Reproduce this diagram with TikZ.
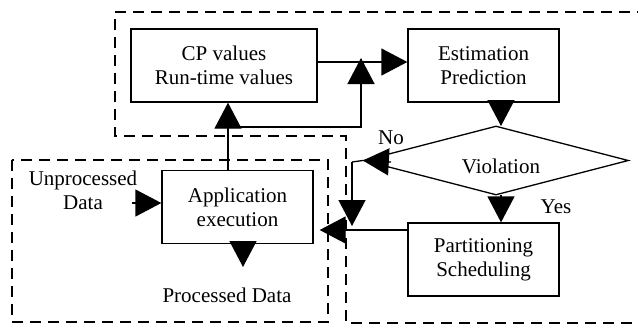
\documentclass[tikz,border=0pt]{standalone}
\usepackage{fontspec}
\setmainfont{Liberation Serif}
\usetikzlibrary{arrows.meta,shapes.geometric}
\tikzset{
  box/.style={draw, line width=1.3bp, minimum width=151bp, minimum height=73bp,
    inner sep=0pt, align=center, font=\fontsize{21bp}{24bp}\selectfont},
  lbl/.style={inner sep=0pt, align=center, font=\fontsize{21bp}{24bp}\selectfont},
  region/.style={line width=1.3bp, dash pattern=on 11bp off 7bp},
  link/.style={line width=1.3bp},
  arr/.style={link, -{Triangle[length=26bp,width=27bp]}},
}
\begin{document}
\begin{tikzpicture}[x=1bp,y=-1bp]
\useasboundingbox (0,0) rectangle (638,331);
\clip (0,0) rectangle (638,331);

% dashed regions
\draw[region] (115,12) -- (650,12) -- (650,323) -- (346,323) -- (346,136) -- (115,136) -- cycle;
\draw[region] (12,160) rectangle (328,322);

% blocks
\node[box, minimum width=186bp] (cp) at (224,65.5) {CP values\\Run-time values};
\node[box] (est) at (483.5,65.5) {Estimation\\Prediction};
\node[box] (app) at (237.5,207) {Application\\execution};
\node[box] (part) at (483.5,259.5) {Partitioning\\Scheduling};
\node[draw, shape=diamond, line width=1.3bp, minimum width=265bp, minimum height=69bp,
  aspect=3.84, inner sep=0pt] (viol) at (496,160.5) {};
\node[lbl] (violtxt) at (501,166) {Violation};

% texts
\node[lbl] (unproc) at (83,190) {Unprocessed\\Data};
\node[lbl] (proc) at (227,295) {Processed Data};
\node[lbl] (no) at (391,138) {No};
\node[lbl] (yes) at (556,207) {Yes};

% connectors
\draw[arr] (app.north -| 228,0) -- (cp.south -| 228,0);
\coordinate (fb) at (240,127);
\draw[arr] (fb) -- (361,127) -- (361,58);
\draw[arr] (cp.east |- 0,62) -- (est.west |- 0,62);
\draw[arr] (est.south -| 501,0) -- (501,126);
\draw[arr] (501,195) -- (part.north -| 501,0);
\coordinate (nodrop) at (352,162);
\draw[link] (viol.west) -- (nodrop);
\draw[arr] (391,162) -- (viol.west);
\draw[arr] (nodrop) -- (352,226);
\draw[arr, shorten >=6bp] (part.west |- 0,230) -- (app.east |- 0,230);
\draw[arr] (132,203) -- (app.west |- 0,203);
\draw[arr] (app.south -| 243,0) -- (243,267);
\end{tikzpicture}
\end{document}
